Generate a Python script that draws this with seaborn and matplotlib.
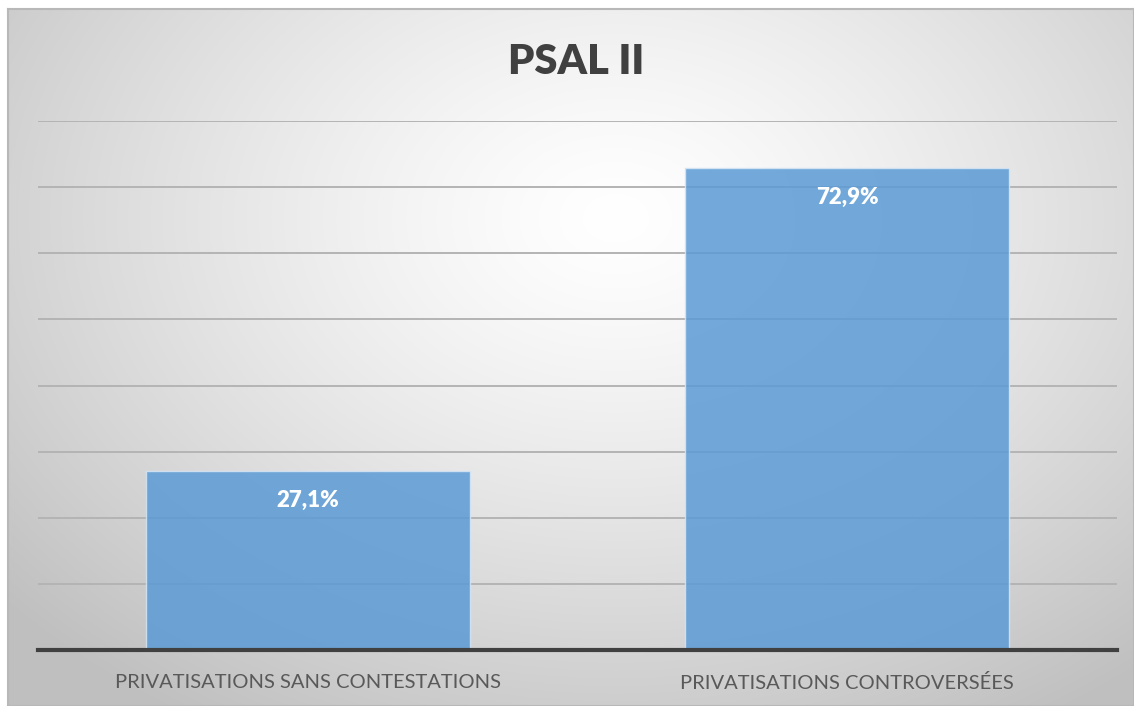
import numpy as np
import pandas as pd
import matplotlib
matplotlib.use("Agg")
import matplotlib.pyplot as plt
import seaborn as sns

# Chart data
categories = ["PRIVATISATIONS SANS CONTESTATIONS", "PRIVATISATIONS CONTROVERSÉES"]
values = [27.1, 72.9]
value_labels = ["27,1%", "72,9%"]
title = "PSAL II"

df = pd.DataFrame({"categorie": categories, "part": values})

sns.set_theme(style="white")
plt.rcParams["font.family"] = ["Lato", "DejaVu Sans"]

W, H, DPI = 1134, 706, 100
fig = plt.figure(figsize=(W / DPI, H / DPI), dpi=DPI)
fig.patch.set_facecolor("white")

# Framed chart area with radial grey-to-white gradient
fx0, fy0 = 8 / W, 0.0
fx1, fy1 = 1.0, 1 - 9 / H
bg = fig.add_axes([fx0, fy0, fx1 - fx0, fy1 - fy0], zorder=0)
gx = np.linspace(0, 1, 600)
gy = np.linspace(0, 1, 400)
X, Y = np.meshgrid(gx, gy)
cx, cy = 0.54, 0.30
r = np.sqrt(((X - cx) / 0.72) ** 2 + ((Y - cy) / 0.85) ** 2)
r = np.clip(r, 0, 1)
shade = 1.0 - 0.25 * r ** 1.3
bg.imshow(np.dstack([shade, shade, shade]), extent=[0, 1, 1, 0], aspect="auto",
          interpolation="bilinear")
bg.set_xticks([])
bg.set_yticks([])
for s in bg.spines.values():
    s.set_color("#b8b8b8")
    s.set_linewidth(1.5)

# Plot area
ax_l, ax_r = 38 / W, 1117 / W
ax_b, ax_t = 1 - 650 / H, 1 - 121 / H
ax = fig.add_axes([ax_l, ax_b, ax_r - ax_l, ax_t - ax_b], zorder=1)
ax.patch.set_alpha(0)

sns.barplot(data=df, x="categorie", y="part", color="#5B9BD5", width=0.6,
            saturation=1, alpha=0.85, edgecolor="#d6e6f5", linewidth=1.0,
            ax=ax, zorder=2)

ax.set_ylim(0, 80)
ax.set_xlim(-0.5, 1.5)
ax.set_yticks(np.arange(10, 81, 10))
ax.yaxis.grid(True, color="#b4b4b4", linewidth=1.4, zorder=0)
ax.set_axisbelow(True)
ax.tick_params(axis="y", left=False, labelleft=False)
ax.tick_params(axis="x", bottom=False, pad=11, labelsize=14.5, labelcolor="#595959")
ax.set_xlabel("")
ax.set_ylabel("")
for side in ["top", "left", "right"]:
    ax.spines[side].set_visible(False)
ax.spines["bottom"].set_color("#404040")
ax.spines["bottom"].set_linewidth(3)
ax.spines["bottom"].set_zorder(3)

# Value labels inside the top of each bar
for i, (v, lab) in enumerate(zip(values, value_labels)):
    ax.annotate(lab, xy=(i, v), xytext=(0, -21), textcoords="offset points",
                ha="center", va="center", color="white", fontsize=16,
                fontweight="heavy", zorder=4)

fig.text(0.508, 1 - 62 / H, title, ha="center", va="center", fontsize=30,
         fontweight="heavy", color="#404040")

fig.savefig("out.png", dpi=DPI)
